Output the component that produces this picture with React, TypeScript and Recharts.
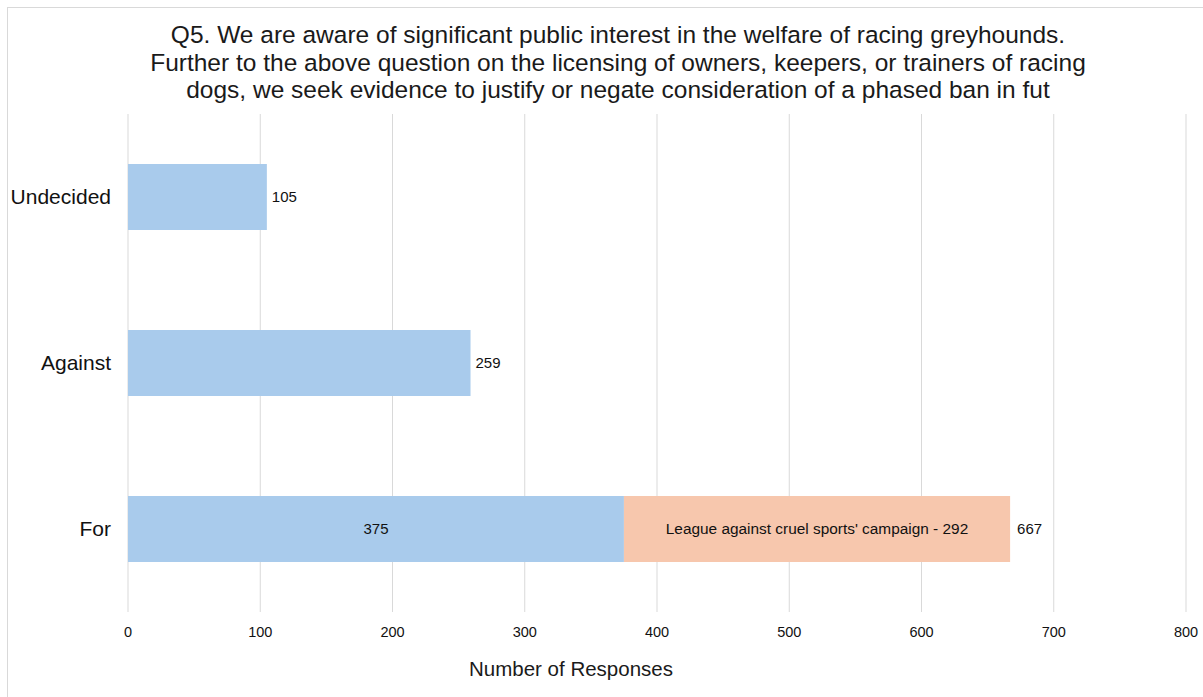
import { BarChart, Bar, XAxis, YAxis, CartesianGrid, LabelList } from "recharts";

const categories = ["Undecided", "Against", "For"];
const baseValues = [105, 259, 375];
const campaignValues = [0, 0, 292];
const xTicks = [0, 100, 200, 300, 400, 500, 600, 700, 800];
const campaignLabel = "League against cruel sports' campaign";

const data = categories.map((name, i) => ({
  name,
  base: baseValues[i],
  campaign: campaignValues[i],
}));

const FONT = "'Liberation Sans', Arial, sans-serif";

// labels for both stacked segments are drawn from the base bar's geometry
const BaseLabel = (props: any) => {
  const { x, y, width, height, index } = props;
  const cy = y + height / 2;
  const base = baseValues[index];
  const extra = campaignValues[index];
  const txt = { fontSize: 15, fill: "#111", fontFamily: FONT } as const;
  if (extra > 0) {
    const pxPerUnit = width / base;
    const extraW = extra * pxPerUnit;
    return (
      <g>
        <text x={x + width / 2} y={cy} dy="0.35em" textAnchor="middle" {...txt}>
          {base}
        </text>
        <text x={x + width + extraW / 2} y={cy} dy="0.35em" textAnchor="middle" {...txt} fontSize={15.4}>
          {`${campaignLabel} - ${extra}`}
        </text>
        <text x={x + width + extraW + 7} y={cy} dy="0.35em" textAnchor="start" {...txt}>
          {base + extra}
        </text>
      </g>
    );
  }
  return (
    <text x={x + width + 5} y={cy} dy="0.35em" textAnchor="start" {...txt}>
      {base}
    </text>
  );
};

export default function App() {
  return (
    <div style={{ position: "absolute", left: 0, top: 0, width: 1203, height: 697, background: "#fff", overflow: "hidden", fontFamily: FONT }}>
      <div style={{ position: "absolute", left: 7, top: 7, width: 1220, height: 720, border: "1px solid #d9d9d9" }} />
      <div
        style={{
          position: "absolute",
          left: 18,
          top: 21,
          width: 1200,
          textAlign: "center",
          fontSize: 24.5,
          lineHeight: "27.5px",
          color: "#1a1a1a",
          whiteSpace: "nowrap",
        }}
      >
        Q5. We are aware of significant public interest in the welfare of racing greyhounds.
        <br />
        Further to the above question on the licensing of owners, keepers, or trainers of racing
        <br />
        dogs, we seek evidence to justify or negate consideration of a phased ban in fut
      </div>
      <div style={{ position: "absolute", left: 0, top: 0 }}>
        <BarChart
          width={1203}
          height={697}
          data={data}
          layout="vertical"
          barSize={66}
          margin={{ top: 114, right: 17, bottom: 55, left: 8 }}
        >
          <CartesianGrid horizontal={false} stroke="#d9d9d9" />
          <XAxis
            type="number"
            domain={[0, 800]}
            ticks={xTicks}
            axisLine={false}
            tickLine={false}
            tickMargin={9}
            height={30}
            tick={{ fontSize: 14.5, fill: "#111", fontFamily: FONT }}
          />
          <YAxis
            type="category"
            dataKey="name"
            width={120}
            axisLine={false}
            tickLine={false}
            tickMargin={11}
            tick={{ fontSize: 21, fill: "#111", fontFamily: FONT }}
          />
          <Bar dataKey="base" stackId="a" fill="#a9cbec" isAnimationActive={false}>
            <LabelList dataKey="base" content={BaseLabel} />
          </Bar>
          <Bar dataKey="campaign" stackId="a" fill="#f7c7ad" isAnimationActive={false} />
        </BarChart>
      </div>
      <div
        style={{
          position: "absolute",
          left: 371,
          width: 400,
          top: 657,
          textAlign: "center",
          fontSize: 20.5,
          color: "#1a1a1a",
        }}
      >
        Number of Responses
      </div>
    </div>
  );
}
